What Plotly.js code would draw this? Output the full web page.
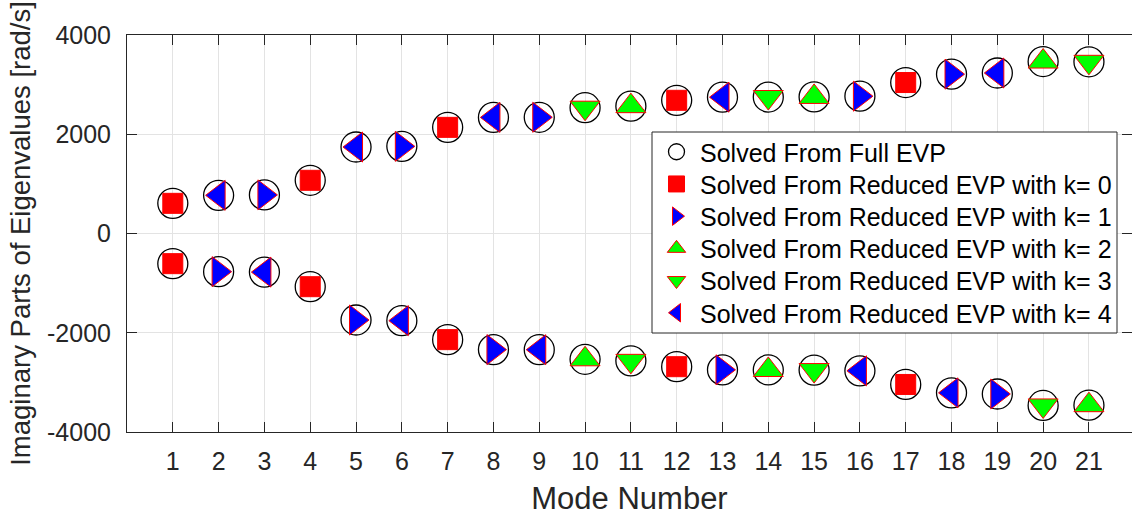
<!DOCTYPE html>
<html>
<head>
<meta charset="utf-8">
<script src="https://cdn.plot.ly/plotly-3.0.1.min.js"></script>
<style>
  html, body { margin: 0; padding: 0; background: #ffffff; }
  #chart { width: 1132px; height: 518px; }
</style>
</head>
<body>
<div id="chart"></div>
<script>
// Mode numbers on the horizontal axis
const modeNumbers = [1, 2, 3, 4, 5, 6, 7, 8, 9, 10, 11, 12, 13, 14, 15, 16, 17, 18, 19, 20, 21];

// Imaginary parts from the full eigenvalue problem (upper and lower branches) [rad/s]
const fullUpper = [608, 769, 778, 1072, 1743, 1756, 2139, 2340, 2342, 2535, 2566, 2684, 2747, 2750, 2752, 2767, 3042, 3211, 3234, 3465, 3460];
const fullLower = [-608, -769, -778, -1072, -1743, -1756, -2139, -2340, -2342, -2535, -2566, -2684, -2747, -2750, -2752, -2767, -3042, -3211, -3234, -3465, -3460];

// Reduced eigenvalue problem, k = 0
const k0Modes = [1, 1, 4, 4, 7, 7, 12, 12, 17, 17];
const k0Imag  = [608, -608, 1072, -1072, 2139, -2139, 2684, -2684, 3042, -3042];

// Reduced eigenvalue problem, k = 1
const k1Modes = [2, 3, 5, 6, 8, 9, 13, 16, 18, 19];
const k1Imag  = [-769, 778, -1743, 1756, -2340, 2342, -2747, 2767, 3211, -3234];

// Reduced eigenvalue problem, k = 2
const k2Modes = [10, 11, 14, 15, 20, 21];
const k2Imag  = [-2535, 2566, -2750, 2752, 3465, -3460];

// Reduced eigenvalue problem, k = 3
const k3Modes = [10, 11, 14, 15, 20, 21];
const k3Imag  = [2535, -2566, 2750, -2752, -3465, 3460];

// Reduced eigenvalue problem, k = 4
const k4Modes = [2, 3, 5, 6, 8, 9, 13, 16, 18, 19];
const k4Imag  = [769, -778, 1743, -1756, 2340, -2342, 2747, -2767, -3211, 3234];

// Tick labels
const yTickVals = [-4000, -2000, 0, 2000, 4000];
const yTickText = ['-4000', '-2000', '0', '2000', '4000'];

// Legend entry names
const seriesNames = [
  'Solved From Full EVP',
  'Solved From Reduced EVP with k= 0',
  'Solved From Reduced EVP with k= 1',
  'Solved From Reduced EVP with k= 2',
  'Solved From Reduced EVP with k= 3',
  'Solved From Reduced EVP with k= 4'
];

const FONT = 'Liberation Sans, Arial, Helvetica, sans-serif';
const AXIS_COLOR = '#262626';
const RED = '#ff0000';
const BLUE = '#0000ff';
const GREEN = '#00ff00';
const TRI_SIZE = 26;

// Each series gets its own one-row legend so the rows can be packed tightly
const legendIds = ['legend', 'legend2', 'legend3', 'legend4', 'legend5', 'legend6'];

function reducedTrace(idx, modes, imag, symbol, fill, size) {
  return {
    type: 'scatter',
    mode: 'markers',
    name: seriesNames[idx],
    legend: legendIds[idx],
    x: modes,
    y: imag,
    marker: {
      symbol: symbol,
      size: size,
      color: fill,
      line: { color: RED, width: 1 }
    },
    cliponaxis: false,
    hoverinfo: 'x+y+name'
  };
}

const traces = [
  {
    type: 'scatter',
    mode: 'markers',
    name: seriesNames[0],
    legend: legendIds[0],
    x: modeNumbers.concat(modeNumbers),
    y: fullUpper.concat(fullLower),
    marker: {
      symbol: 'circle-open',
      size: 30,
      color: '#000000',
      line: { color: '#000000', width: 1.3 }
    },
    cliponaxis: false,
    hoverinfo: 'x+y+name'
  },
  reducedTrace(1, k0Modes, k0Imag, 'square', RED, 20),
  reducedTrace(2, k1Modes, k1Imag, 'triangle-right', BLUE, TRI_SIZE),
  reducedTrace(3, k2Modes, k2Imag, 'triangle-up', GREEN, TRI_SIZE),
  reducedTrace(4, k3Modes, k3Imag, 'triangle-down', GREEN, TRI_SIZE),
  reducedTrace(5, k4Modes, k4Imag, 'triangle-left', BLUE, TRI_SIZE)
];

// Plot area geometry in pixels (used to place the legend block)
const PLOT_LEFT = 127, PLOT_RIGHT = 1132, PLOT_TOP = 35, PLOT_BOTTOM = 432;
const px2x = p => (p - PLOT_LEFT) / (PLOT_RIGHT - PLOT_LEFT);
const px2y = p => (PLOT_BOTTOM - p) / (PLOT_BOTTOM - PLOT_TOP);

const LEGEND_BOX = { left: 652, right: 1117, top: 132, bottom: 333 };
const LEGEND_ROW0 = 152, LEGEND_ROW_STEP = 32.2;

const layout = {
  width: 1132,
  height: 518,
  paper_bgcolor: '#ffffff',
  plot_bgcolor: '#ffffff',
  margin: { l: PLOT_LEFT, r: 1132 - PLOT_RIGHT, t: PLOT_TOP, b: 518 - PLOT_BOTTOM, pad: 0 },
  font: { family: FONT, color: AXIS_COLOR, size: 25 },
  showlegend: true,
  xaxis: {
    range: [0, 21.94],
    tickmode: 'array',
    tickvals: modeNumbers,
    ticktext: modeNumbers.map(String),
    ticks: 'inside',
    ticklen: 10,
    tickwidth: 1,
    tickcolor: AXIS_COLOR,
    showline: true,
    linecolor: AXIS_COLOR,
    linewidth: 1,
    mirror: 'allticks',
    showgrid: true,
    gridcolor: '#e3e3e3',
    gridwidth: 1,
    zeroline: false,
    tickfont: { family: FONT, size: 25, color: AXIS_COLOR },
    ticklabelstandoff: 7,
    title: { text: 'Mode Number', font: { family: FONT, size: 31, color: AXIS_COLOR }, standoff: 13 }
  },
  yaxis: {
    range: [-4000, 4000],
    tickmode: 'array',
    tickvals: yTickVals,
    ticktext: yTickText,
    ticks: 'inside',
    ticklen: 10,
    tickwidth: 1,
    tickcolor: AXIS_COLOR,
    showline: true,
    linecolor: AXIS_COLOR,
    linewidth: 1,
    mirror: 'allticks',
    showgrid: true,
    gridcolor: '#e3e3e3',
    gridwidth: 1,
    zeroline: false,
    tickfont: { family: FONT, size: 25, color: AXIS_COLOR },
    ticklabelstandoff: 10,
    title: { text: 'Imaginary Parts of Eigenvalues [rad/s]', font: { family: FONT, size: 27.5, color: AXIS_COLOR }, standoff: 8 }
  },
  shapes: [
    {
      type: 'rect',
      xref: 'paper', yref: 'paper',
      x0: px2x(LEGEND_BOX.left), x1: px2x(LEGEND_BOX.right),
      y0: px2y(LEGEND_BOX.bottom), y1: px2y(LEGEND_BOX.top),
      fillcolor: '#ffffff',
      line: { color: AXIS_COLOR, width: 1 },
      layer: 'above'
    }
  ]
};

legendIds.forEach((id, i) => {
  layout[id] = {
    x: px2x(LEGEND_BOX.left + 1),
    y: px2y(LEGEND_ROW0 + i * LEGEND_ROW_STEP),
    xanchor: 'left',
    yanchor: 'middle',
    bgcolor: 'rgba(0,0,0,0)',
    borderwidth: 0,
    font: { family: FONT, size: 25, color: '#000000' },
    itemwidth: 37,
    tracegroupgap: 0
  };
});

Plotly.newPlot('chart', traces, layout, { displayModeBar: false, staticPlot: true });
</script>
</body>
</html>
